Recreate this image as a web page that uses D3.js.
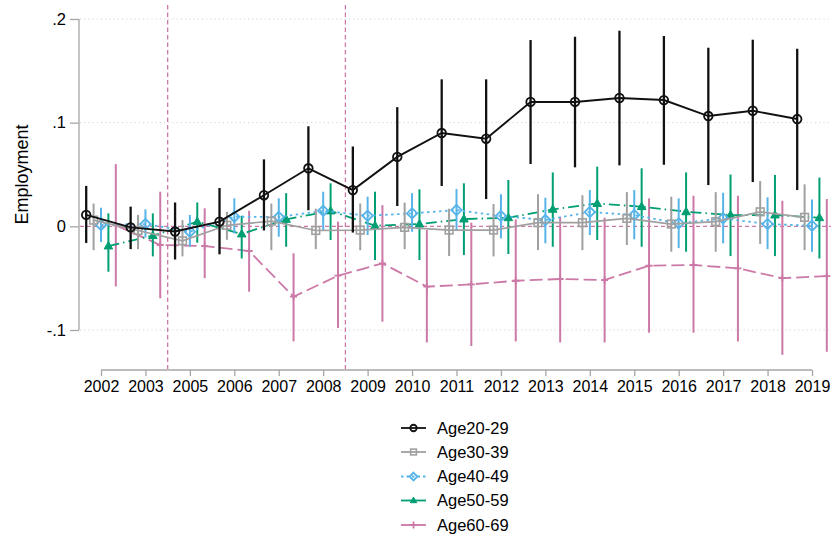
<!DOCTYPE html>
<html>
<head>
<meta charset="utf-8">
<script src="https://cdn.jsdelivr.net/npm/d3@7"></script>
<style>
  html, body { margin: 0; padding: 0; background: #fff; }
  svg { display: block; font-family: "Liberation Sans", Arial, Helvetica, sans-serif; }
</style>
</head>
<body>
<svg id="chart" width="831" height="538"></svg>
<script>
const years = ["2002","2003","2005","2006","2007","2008","2009","2010","2011","2012","2013","2014","2015","2016","2017","2018","2019"];
const seriesNames = ["Age20-29","Age30-39","Age40-49","Age50-59","Age60-69"];
const yTicks = [-0.1, 0, 0.1, 0.2];
const yTickLabels = ["-.1", "0", ".1", ".2"];
const eventLines = [["2003","2005"], ["2008","2009"]];

const age2029 = [0.011, -0.001, -0.005, 0.0045, 0.030, 0.056, 0.035, 0.067, 0.090, 0.0845, 0.120, 0.120, 0.1238, 0.1218, 0.1064, 0.1115, 0.1035];
const age2029Lo = [-0.016, -0.022, -0.032, -0.027, -0.004, 0.0155, -0.006, 0.0196, 0.0389, 0.0263, 0.0601, 0.0569, 0.0588, 0.0594, 0.0398, 0.0427, 0.035];
const age2029Hi = [0.039, 0.019, 0.023, 0.037, 0.0646, 0.0965, 0.077, 0.115, 0.1418, 0.1418, 0.1797, 0.1829, 0.1887, 0.1836, 0.1723, 0.180, 0.1713];

const age3039 = [0.006, -0.004, -0.014, 0.001, 0.005, -0.004, -0.0036, -0.001, -0.0036, -0.0036, 0.0035, 0.0035, 0.0077, 0.0022, 0.0045, 0.014, 0.0087];
const age3039Lo = [-0.023, -0.022, -0.029, -0.013, -0.023, -0.022, -0.023, -0.022, -0.0287, -0.029, -0.023, -0.023, -0.018, -0.0245, -0.0245, -0.017, -0.023];
const age3039Hi = [0.022, 0.011, 0.006, 0.014, 0.022, 0.017, 0.022, 0.0228, 0.017, 0.0215, 0.031, 0.030, 0.033, 0.0286, 0.033, 0.0437, 0.0405];

const age4049 = [0.0013, 0.0022, -0.0052, 0.0093, 0.009, 0.015, 0.0102, 0.0125, 0.0157, 0.0099, 0.0061, 0.0138, 0.0109, 0.0029, 0.0077, 0.0022, 0.0006];
const age4049Lo = [-0.015, -0.0106, -0.0197, -0.0068, -0.010, -0.0036, -0.0084, -0.0052, -0.0036, -0.0116, -0.0164, -0.0084, -0.0125, -0.021, -0.0164, -0.022, -0.0245];
const age4049Hi = [0.018, 0.0164, 0.011, 0.027, 0.027, 0.0334, 0.0286, 0.032, 0.036, 0.031, 0.0276, 0.035, 0.035, 0.027, 0.0324, 0.028, 0.026];

const age5059 = [-0.019, -0.009, 0.0045, -0.0074, 0.0067, 0.0148, 0.0006, 0.0022, 0.007, 0.0083, 0.0164, 0.022, 0.019, 0.014, 0.0109, 0.0109, 0.0083];
const age5059Lo = [-0.0438, -0.029, -0.0158, -0.031, -0.0197, -0.0132, -0.0325, -0.0325, -0.0277, -0.0267, -0.0197, -0.0132, -0.0197, -0.0245, -0.0287, -0.0287, -0.031];
const age5059Hi = [0.0125, 0.0125, 0.023, 0.0102, 0.032, 0.0415, 0.0334, 0.0357, 0.0415, 0.0447, 0.052, 0.0575, 0.056, 0.052, 0.050, 0.0495, 0.047];

const age6069 = [0.001, -0.018, -0.019, -0.0238, -0.0679, -0.0476, -0.0357, -0.0582, -0.056, -0.0525, -0.0508, -0.0518, -0.038, -0.0373, -0.0405, -0.050, -0.048];
const age6069Lo = [-0.058, -0.0695, -0.050, -0.063, -0.111, -0.098, -0.092, -0.112, -0.1155, -0.111, -0.112, -0.112, -0.1026, -0.1026, -0.111, -0.124, -0.121];
const age6069Hi = [0.060, 0.0334, 0.0174, 0.015, -0.026, 0.0045, 0.0205, -0.0036, 0.0035, 0.0067, 0.0093, 0.0083, 0.027, 0.0295, 0.0295, 0.0247, 0.0263];

const seriesData = [
  {name: seriesNames[0], b: age2029, lo: age2029Lo, hi: age2029Hi, color: "#111111", dash: null, marker: "circle", ciw: 2.3, lw: 1.9},
  {name: seriesNames[1], b: age3039, lo: age3039Lo, hi: age3039Hi, color: "#a0a0a0", dash: null, marker: "square", ciw: 2, lw: 1.7},
  {name: seriesNames[2], b: age4049, lo: age4049Lo, hi: age4049Hi, color: "#56b4e9", dash: "2.5,3.5", marker: "diamond", ciw: 2, lw: 1.8},
  {name: seriesNames[3], b: age5059, lo: age5059Lo, hi: age5059Hi, color: "#009e73", dash: "11,4,1.5,4", marker: "triangle", ciw: 2, lw: 1.8},
  {name: seriesNames[4], b: age6069, lo: age6069Lo, hi: age6069Hi, color: "#cc79a7", dash: "13,5", marker: "plus", ciw: 2, lw: 1.8}
];

const svg = d3.select("#chart");
const x = d3.scalePoint().domain(years).range([101, 812]);
const offset = d3.scalePoint().domain(seriesNames).range([-14.8, 14.8]);
const y = d3.scaleLinear().domain([-0.1, 0.2]).range([330, 19]);
const gridColor = "#d4d4d4";
const axisColor = "#a6a6a6";
const fontFam = "Liberation Sans, Arial, sans-serif";

// gridlines
svg.append("g").selectAll("line").data(yTicks.filter(t => t !== 0)).join("line")
  .attr("x1", 80).attr("x2", 831)
  .attr("y1", d => y(d)).attr("y2", d => y(d))
  .attr("stroke", gridColor).attr("stroke-width", 1).attr("stroke-dasharray", "1.2,3");

// zero reference line
svg.append("line").attr("x1", 80).attr("x2", 831).attr("y1", y(0)).attr("y2", y(0))
  .attr("stroke", "#cc79a7").attr("stroke-width", 1.3).attr("stroke-dasharray", "4,3");

// event lines
svg.append("g").selectAll("line").data(eventLines).join("line")
  .attr("x1", d => (x(d[0]) + x(d[1])) / 2).attr("x2", d => (x(d[0]) + x(d[1])) / 2)
  .attr("y1", 5).attr("y2", 369)
  .attr("stroke", "#cc79a7").attr("stroke-width", 1.3).attr("stroke-dasharray", "4.5,3");

// y axis
const yAxis = d3.axisLeft(y).tickValues(yTicks).tickSize(9).tickPadding(4)
  .tickFormat(d => yTickLabels[yTicks.indexOf(d)]);
const gy = svg.append("g").attr("transform", "translate(79,0)").call(yAxis);
gy.select(".domain").attr("stroke", axisColor).attr("stroke-width", 1.3).attr("d", `M0,${y(0.2)}V${y(-0.1)}`);
gy.selectAll(".tick line").attr("stroke", axisColor).attr("stroke-width", 1.3);
gy.selectAll(".tick text").attr("font-size", 16.5).attr("fill", "#000").attr("font-family", fontFam);

// x axis
const xAxis = d3.axisBottom(x).tickSize(6).tickPadding(5);
const gx = svg.append("g").attr("transform", "translate(0,370)").call(xAxis);
gx.select(".domain").attr("stroke", axisColor).attr("stroke-width", 1.3).attr("d", `M${x(years[0])},0H${x(years[years.length-1])}`);
gx.selectAll(".tick line").attr("stroke", axisColor).attr("stroke-width", 1.3);
gx.selectAll(".tick text").attr("font-size", 16).attr("fill", "#000").attr("font-family", fontFam);

// y title
svg.append("text").attr("transform", `translate(28,${(y(0.2) + y(-0.1)) / 2}) rotate(-90)`)
  .attr("text-anchor", "middle").attr("font-size", 18).attr("fill", "#000").text("Employment");

function drawMarker(g, type, color, size) {
  if (type === "circle") {
    g.append("circle").attr("r", size * 0.95).attr("fill", "none").attr("stroke", color).attr("stroke-width", 1.8);
  } else if (type === "square") {
    g.append("rect").attr("x", -size * 0.85).attr("y", -size * 0.85).attr("width", size * 1.7).attr("height", size * 1.7)
      .attr("fill", "none").attr("stroke", color).attr("stroke-width", 1.6);
  } else if (type === "diamond") {
    const s = size * 1.15;
    g.append("path").attr("d", `M0,${-s}L${s},0L0,${s}L${-s},0Z`).attr("fill", "none").attr("stroke", color).attr("stroke-width", 1.8);
  } else if (type === "triangle") {
    const s = size;
    g.append("path").attr("d", `M0,${-s}L${s * 0.95},${s * 0.65}L${-s * 0.95},${s * 0.65}Z`).attr("fill", color).attr("stroke", color).attr("stroke-width", 1);
  } else if (type === "plus") {
    g.append("path").attr("d", `M${-size},0H${size}M0,${-size}V${size}`).attr("stroke", color).attr("stroke-width", 1.8);
  }
}

// series (last drawn on top)
const order = seriesData.slice().reverse();
order.forEach(s => {
  const g = svg.append("g");
  const pts = years.map((yr, i) => ({xp: x(yr) + offset(s.name), b: s.b[i], lo: s.lo[i], hi: s.hi[i]}));
  g.selectAll("line.ci").data(pts).join("line").attr("class", "ci")
    .attr("x1", d => d.xp).attr("x2", d => d.xp)
    .attr("y1", d => y(d.hi)).attr("y2", d => y(d.lo))
    .attr("stroke", s.color).attr("stroke-width", s.ciw);
  const line = d3.line().x(d => d.xp).y(d => y(d.b));
  g.append("path").datum(pts).attr("d", line).attr("fill", "none")
    .attr("stroke", s.color).attr("stroke-width", s.lw)
    .attr("stroke-dasharray", s.dash);
  pts.forEach(d => {
    const mg = g.append("g").attr("transform", `translate(${d.xp},${y(d.b)})`);
    drawMarker(mg, s.marker, s.color, s.marker === "plus" ? 3.5 : 4.5);
  });
});

// legend
const legendY = [428, 452, 476.5, 500.5, 525];
const leg = svg.append("g");
seriesData.forEach((s, i) => {
  const row = leg.append("g").attr("transform", `translate(0,${legendY[i]})`);
  row.append("line").attr("x1", 401).attr("x2", 426).attr("y1", 0).attr("y2", 0)
    .attr("stroke", s.color).attr("stroke-width", 1.8)
    .attr("stroke-dasharray", s.marker === "diamond" ? "2.5,3" : null);
  const mg = row.append("g").attr("transform", "translate(413.5,0)");
  drawMarker(mg, s.marker, s.color, s.marker === "plus" ? 3.5 : 3.4);
  row.append("text").attr("x", 437).attr("y", 0).attr("dy", "0.36em")
    .attr("font-size", 16.5).attr("fill", "#000").text(s.name);
});
</script>
</body>
</html>
